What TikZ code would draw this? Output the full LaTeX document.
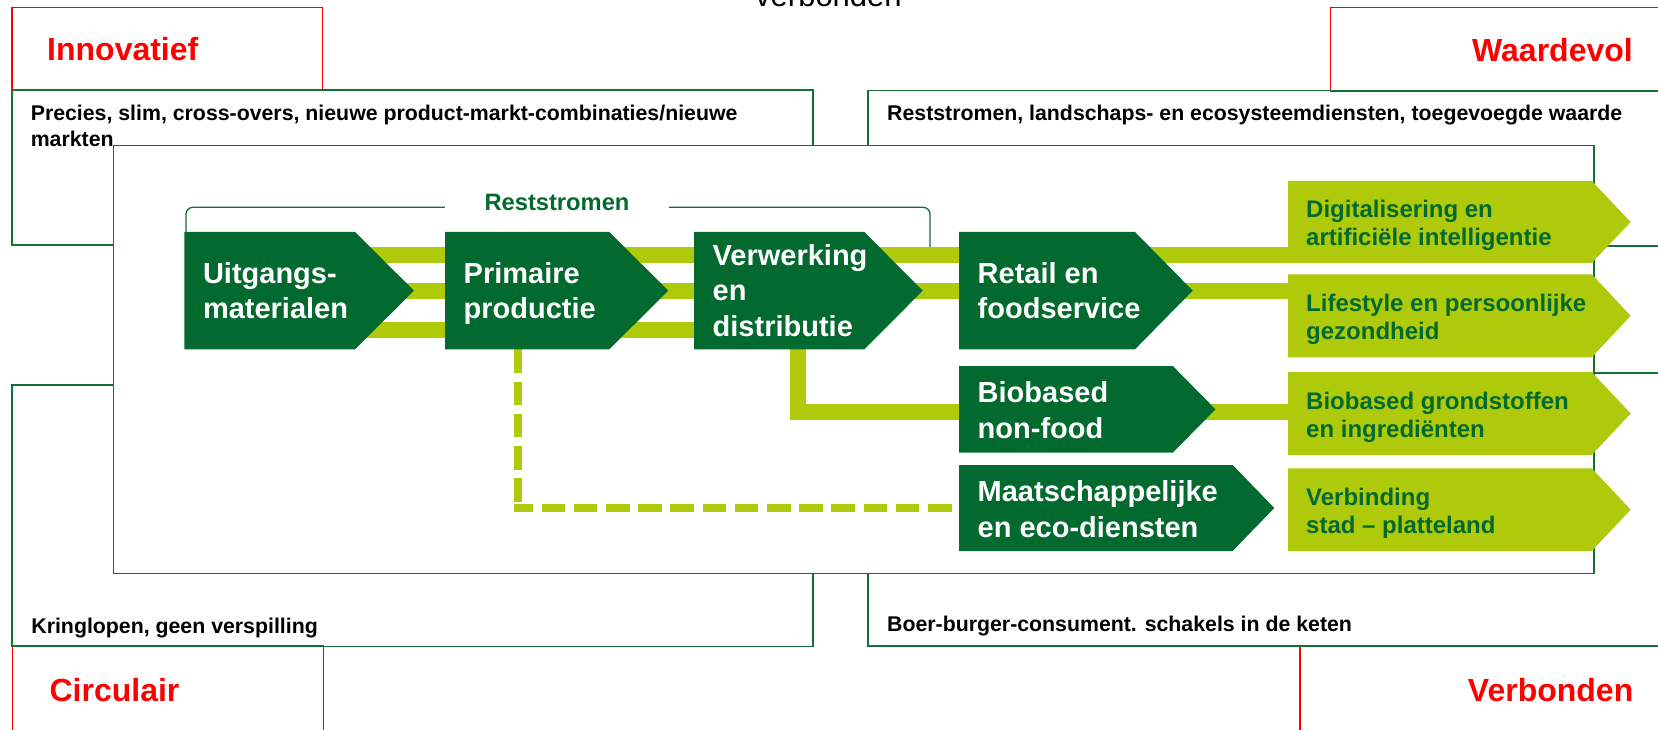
\documentclass[tikz,border=0pt]{standalone}
\usepackage{fontspec}
\setmainfont{Liberation Sans}
\usetikzlibrary{calc}
\definecolor{dkg}{RGB}{3,106,47}
\definecolor{ltg}{RGB}{175,202,11}
\definecolor{lng}{RGB}{20,112,55}
\definecolor{rd}{RGB}{255,0,0}
\newcommand\mklines[1]{\begin{tabular}[t]{@{}l@{}}#1\end{tabular}}
\newcommand\chevdef[5]{\node[chevbody, minimum width={#4pt-#2pt}, minimum height={#5pt-#3pt}] (#1) at (#2,#3) {};}
\tikzset{
  thinbox/.style={draw=lng, line width=1.4pt},
  redbox/.style={draw=rd, line width=1.4pt},
  chevbody/.style={rectangle, inner sep=0pt, outer sep=0pt, draw=none, anchor=north west},
  dtext/.style={anchor=base west, inner sep=0pt, text=white, font=\fontsize{29}{35.5}\selectfont\bfseries},
  ltext/.style={anchor=base west, inner sep=0pt, text=dkg, font=\fontsize{24}{28.2}\selectfont\bfseries},
  smalltext/.style={anchor=base west, inner sep=0pt, text=black, font=\fontsize{21.3}{26}\selectfont\bfseries},
  redtext/.style={inner sep=0pt, text=rd, font=\fontsize{32}{38}\selectfont\bfseries},
  bar/.style={draw=ltg, line width=16pt},
  dashbar/.style={draw=ltg, line width=8pt, dash pattern=on 23.6pt off 8.6pt},
}
\begin{document}
\begin{tikzpicture}[x=1pt, y=-1pt]
\useasboundingbox (0,0) rectangle (1658,730);
\clip (0,0) rectangle (1658,730);

% top cut-off text
\node[anchor=base west, inner sep=0pt, font=\fontsize{31}{36}\selectfont, text=black] (topv) at (755,6.7) {verbonden};

% red corner boxes
\draw[redbox] (12,7.3) rectangle (322.4,90.7);
\draw[redbox] (1330.4,7.3) rectangle (1672,91.7);
\draw[redbox] (12.3,645.5) rectangle (323.3,745);
\draw[redbox] (1300,646.7) rectangle (1672,745);

% green quadrant boxes
\draw[thinbox] (12,90) rectangle (813,245);
\draw[thinbox] (868,90.7) rectangle (1672,246);
\draw[thinbox] (12,385) rectangle (813,646.3);
\draw[thinbox] (868,373) rectangle (1672,646);

% inner box
\draw[thinbox, fill=white] (113.5,145.7) rectangle (1594,573.3);

% chevron nodes
\chevdef{uit}{184.3}{232}{355}{349.3}
\chevdef{prim}{445}{232}{609.3}{349.3}
\chevdef{verw}{694}{232}{864.3}{349.3}
\chevdef{ret}{959}{232}{1135}{349.3}
\chevdef{bio}{959}{366}{1172.8}{452.7}
\chevdef{maat}{959}{465}{1232.6}{551}
\chevdef{digi}{1288}{181}{1591.7}{263}
\chevdef{life}{1288}{274.3}{1591.7}{357.3}
\chevdef{bgr}{1288}{372}{1591.7}{455}
\chevdef{verb}{1288}{468.3}{1591.7}{551}

% Reststromen bracket
\coordinate (brR) at (930,207.3);
\coordinate (ytop) at (0,255.3);
\coordinate (ybot) at (0,329.5);
\draw[thinbox, line width=1.3pt, rounded corners=7pt] ($(uit.north west)+(1.6,0)$) |- (brR) -- (brR |- ytop);
\node[fill=white, inner xsep=40pt, inner ysep=3pt, text=dkg, font=\fontsize{23.7}{28}\selectfont\bfseries, anchor=base] (rest) at (557,210.7) {Reststromen};

% light green bars
\draw[bar] (uit.center |- ytop) -- (digi.center |- ytop);
\draw[bar] (uit.center) -- (life.center |- uit.center);
\draw[bar] (uit.center |- ybot) -- (verw.center |- ybot);
\coordinate (lbar) at (798,412);
\draw[bar] (verw.center -| lbar) |- (bgr.center |- lbar);
\coordinate (dsh) at (518,508.3);
\draw[dashbar] (prim.south -| dsh) -- (dsh);
\draw[dashbar, dash phase=4.6pt] ($(dsh)+(-4,0)$) -- (maat.west |- dsh);

% chevron fills
\foreach \n/\t/\c in {uit/59/dkg, prim/59/dkg, verw/58.5/dkg, ret/57.7/dkg, bio/42.7/dkg, maat/41.7/dkg, digi/39/ltg, life/39/ltg, bgr/39/ltg, verb/39/ltg}
  \fill[\c] (\n.north west) -- (\n.north east) -- ($(\n.east)+(\t,0)$) -- (\n.south east) -- (\n.south west) -- cycle;

% chevron texts
\node[dtext] (uitT) at ($(uit.west)+(18.5,-7.2)$) {\mklines{Uitgangs-\\materialen}};
\node[dtext] (primT) at ($(prim.west)+(18.5,-7.2)$) {\mklines{Primaire\\productie}};
\node[dtext] (verwT) at ($(verw.west)+(18.5,-25.3)$) {\mklines{Verwerking\\en\\distributie}};
\node[dtext] (retT) at ($(ret.west)+(18.5,-7.2)$) {\mklines{Retail en\\foodservice}};
\node[dtext] (bioT) at ($(bio.west)+(18.5,-6.6)$) {\mklines{Biobased\\non-food}};
\node[dtext] (maatT) at ($(maat.west)+(18.5,-6.5)$) {\mklines{Maatschappelijke\\en eco-diensten}};
\node[ltext] (digiT) at ($(digi.west)+(18,-4.6)$) {\mklines{Digitalisering en\\artificiële intelligentie}};
\node[ltext] (lifeT) at ($(life.west)+(18,-4.3)$) {\mklines{Lifestyle en persoonlijke\\gezondheid}};
\node[ltext] (bgrT) at ($(bgr.west)+(18,-4.3)$) {\mklines{Biobased grondstoffen\\en ingrediënten}};
\node[ltext] (verbT) at ($(verb.west)+(18,-4.6)$) {\mklines{Verbinding\\stad – platteland}};

% quadrant texts
\node[smalltext] (tlT) at (30.6,120.7) {\mklines{Precies, slim, cross-overs, nieuwe product-markt-combinaties/nieuwe\\markten}};
\node[smalltext] (trT) at (887,120.7) {Reststromen, landschaps- en ecosysteemdiensten, toegevoegde waarde};
\node[smalltext] (blT) at (31.2,633.3) {Kringlopen, geen verspilling};
\node[smalltext] (brT) at (887,631.7) {Boer-burger-consument. schakels in de keten};

% red labels
\node[redtext, anchor=base west] (innov) at (47,61) {Innovatief};
\node[redtext, anchor=base east] (waard) at (1633,61.7) {Waardevol};
\node[redtext, anchor=base west] (circ) at (49.4,701) {Circulair};
\node[redtext, anchor=base east] (verbo) at (1633.5,701) {Verbonden};
\end{tikzpicture}
\end{document}
